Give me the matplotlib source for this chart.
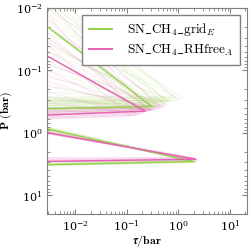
import matplotlib
matplotlib.use("Agg")
import matplotlib.pyplot as plt

plt.rcParams["font.family"] = "DejaVu Serif"
plt.rcParams["mathtext.fontset"] = "cm"

TAU_EDGE = 2.9e-3

# each deck: pressure at left edge, peak tau, peak pressure, base pressure
grid_med_up = (0.020, 0.31, 0.38, 0.41)
grid_med_lo = (0.87, 2.0, 2.9, 3.25)
rh_med_up = (0.059, 0.23, 0.45, 0.52)
rh_med_lo = (1.0, 2.2, 2.66, 2.88)

grid_p_start = [0.004, 0.005, 0.006, 0.007, 0.008, 0.009, 0.010, 0.012, 0.015, 0.018,
                0.02, 0.025, 0.03, 0.035, 0.04, 0.05, 0.06, 0.08, 0.10, 0.13,
                0.17, 0.22, 0.26, 0.30]
grid_tau_peak = [0.30, 1.0, 0.50, 0.55, 0.80, 0.65, 1.2, 0.40, 0.60, 0.28,
                 0.35, 0.90, 0.25, 0.38, 0.45, 0.70, 0.30, 0.50, 0.40, 0.60,
                 0.35, 0.80, 0.30, 0.45]
grid_p_peak = [0.30, 0.30, 0.28, 0.35, 0.26, 0.32, 0.28, 0.33, 0.30, 0.44,
               0.36, 0.27, 0.40, 0.39, 0.32, 0.30, 0.38, 0.34, 0.36, 0.33,
               0.40, 0.31, 0.42, 0.37]
grid_p_end = [0.32, 0.31, 0.30, 0.37, 0.27, 0.34, 0.29, 0.36, 0.32, 0.47,
              0.39, 0.28, 0.43, 0.42, 0.34, 0.31, 0.41, 0.37, 0.39, 0.35,
              0.43, 0.33, 0.45, 0.40]

rh_p_start = [0.008, 0.010, 0.013, 0.016, 0.02, 0.025, 0.03, 0.035, 0.04, 0.05,
              0.06, 0.07, 0.08, 0.10, 0.12, 0.15, 0.18, 0.22, 0.27, 0.33, 0.40]
rh_tau_peak = [0.25, 0.45, 0.15, 0.35, 0.60, 0.20, 0.30, 0.50, 0.12, 0.40,
               0.22, 0.28, 0.55, 0.18, 0.33, 0.25, 0.45, 0.15, 0.30, 0.20, 0.35]
rh_p_peak = [0.40, 0.38, 0.50, 0.42, 0.36, 0.48, 0.44, 0.40, 0.55, 0.42,
             0.47, 0.45, 0.38, 0.52, 0.43, 0.46, 0.40, 0.53, 0.44, 0.50, 0.42]
rh_p_end = [0.45, 0.42, 0.56, 0.47, 0.40, 0.54, 0.50, 0.45, 0.60, 0.47,
            0.53, 0.51, 0.42, 0.58, 0.49, 0.52, 0.45, 0.59, 0.50, 0.56, 0.47]

grid_lo_p_start = [0.80, 0.82, 0.84, 0.86, 0.88, 0.90, 0.92, 0.95]
grid_lo_tau = [1.8, 2.1, 1.9, 2.2, 2.0, 1.7, 2.3, 1.9]
grid_lo_p_peak = [2.8, 2.9, 2.85, 3.0, 2.9, 2.75, 2.95, 2.8]
grid_lo_p_end = [3.1, 3.3, 3.2, 3.4, 3.25, 3.0, 3.35, 3.15]

rh_lo_p_start = [0.95, 0.97, 0.99, 1.01, 1.03, 1.05, 1.0, 0.98]
rh_lo_tau = [2.0, 2.3, 2.1, 2.4, 1.9, 2.2, 2.25, 2.05]
rh_lo_p_peak = [2.5, 2.7, 2.6, 2.8, 2.55, 2.65, 2.7, 2.6]
rh_lo_p_end = [2.5, 2.9, 2.7, 2.95, 2.6, 2.85, 2.9, 2.75]

green = "#94d04a"
pink = "#e462b2"


def deck(ax, p_start, tau_peak, p_peak, p_end, color, lw, alpha, label=None):
    ax.plot([TAU_EDGE, tau_peak, TAU_EDGE], [p_start, p_peak, p_end],
            color=color, lw=lw, alpha=alpha, label=label)


fig = plt.figure(figsize=(2.49, 2.49), dpi=100)
ax = fig.add_axes([0.19, 0.141, 0.80, 0.827])

for i in range(len(grid_p_start)):
    deck(ax, grid_p_start[i], grid_tau_peak[i], grid_p_peak[i], grid_p_end[i], green, 0.5, 0.2)
for i in range(len(grid_lo_p_start)):
    deck(ax, grid_lo_p_start[i], grid_lo_tau[i], grid_lo_p_peak[i], grid_lo_p_end[i], green, 0.5, 0.25)
for i in range(len(rh_p_start)):
    deck(ax, rh_p_start[i], rh_tau_peak[i], rh_p_peak[i], rh_p_end[i], pink, 0.5, 0.2)
for i in range(len(rh_lo_p_start)):
    deck(ax, rh_lo_p_start[i], rh_lo_tau[i], rh_lo_p_peak[i], rh_lo_p_end[i], pink, 0.5, 0.25)

deck(ax, *grid_med_up, green, 1.0, 1.0, label=r"$\mathrm{SN\_CH_4\_grid}_E$")
deck(ax, *grid_med_lo, green, 1.0, 1.0)
deck(ax, *rh_med_up, pink, 1.0, 1.0, label=r"$\mathrm{SN\_CH_4\_RHfree}_A$")
deck(ax, *rh_med_lo, pink, 1.0, 1.0)

ax.set_xscale("log")
ax.set_yscale("log")
ax.set_xlim(TAU_EDGE, 21)
ax.set_ylim(20, 0.01)

ax.set_xlabel(r"$\boldsymbol{\tau}/\mathbf{bar}$", fontsize=8.5, labelpad=0)
ax.set_ylabel(r"$\mathbf{P\ (bar)}$", fontsize=8.5, labelpad=1)
ax.tick_params(which="both", direction="in", top=True, right=True, colors="#808080",
               labelcolor="black", labelsize=8)
for s in ax.spines.values():
    s.set_color("#808080")

leg = ax.legend(loc="upper right", fontsize=9.5, fancybox=False, edgecolor="#808080",
                framealpha=1, handlelength=1.8, handletextpad=1.1, labelspacing=0.35,
                borderpad=0.5, borderaxespad=0.5)
for line in leg.get_lines():
    line.set_alpha(1)
    line.set_linewidth(1.4)

fig.savefig("out.png", dpi=100)
